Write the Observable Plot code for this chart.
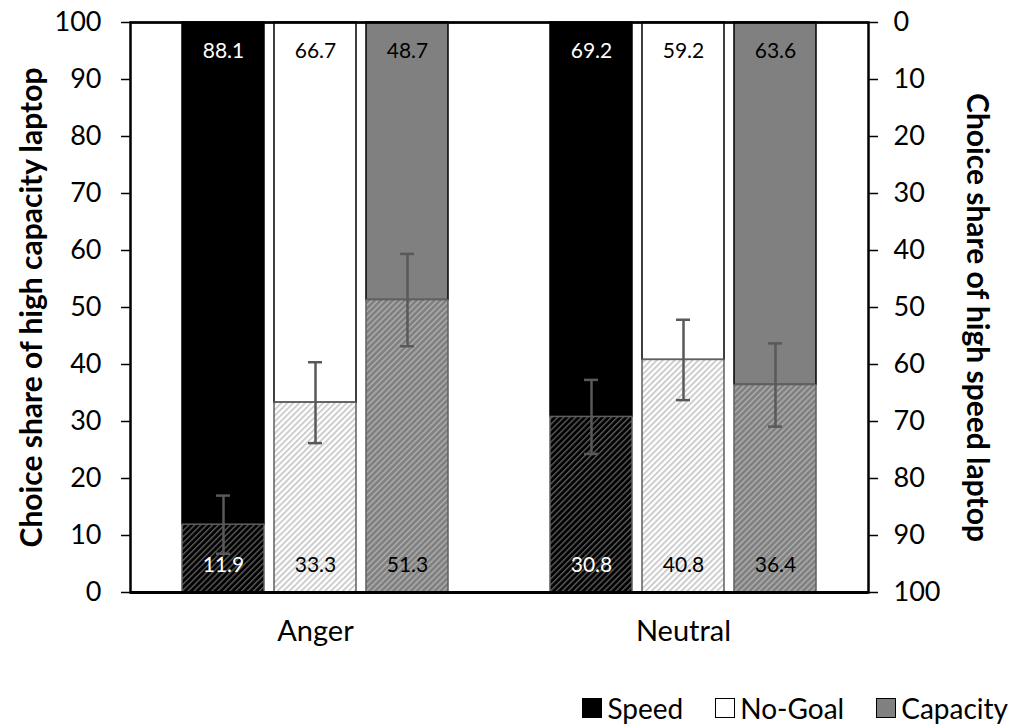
<!DOCTYPE html>
<html>
<head>
<meta charset="utf-8">
<script src="https://cdn.jsdelivr.net/npm/d3@7"></script>
<script src="https://cdn.jsdelivr.net/npm/@observablehq/plot@0.6"></script>
<style>
  body { margin: 0; background: #fff; }
  #chart { position: relative; width: 1011px; height: 726px; font-family: Lato, "Open Sans", sans-serif; overflow: hidden; }
  #chart svg { position: absolute; left: 0; top: 0; }
  .legend { position: absolute; right: 3px; top: 694px; display: flex; flex-wrap: nowrap; white-space: nowrap; align-items: center; font-size: 28px; color: #000; line-height: 1; }
  .legend .item { display: flex; align-items: center; margin-right: 32px; white-space: nowrap; }
  .legend .item:last-child { margin-right: 0; }
  .legend .sw { width: 20px; height: 20px; flex: none; box-sizing: border-box; border: 1.5px solid #000; margin-right: 5px; }
</style>
</head>
<body>
<div id="chart"></div>
<script>
// ---- data ----
const groups = ["Anger", "Neutral"];
const conditions = ["Speed", "No-Goal", "Capacity"];
// choice share of high capacity laptop (lower segment), per group x condition
const capacityShare = [11.9, 33.3, 51.3, 30.8, 40.8, 36.4];
// choice share of high speed laptop (upper segment)
const speedShare = [88.1, 66.7, 48.7, 69.2, 59.2, 63.6];
// half-length of error bars
const errorHalf = [5.1, 7.1, 8.1, 6.5, 7.05, 7.3];
const yTicks = [0, 10, 20, 30, 40, 50, 60, 70, 80, 90, 100];

const rows = [];
groups.forEach((g, gi) => conditions.forEach((c, ci) => {
  const i = gi * conditions.length + ci;
  rows.push({key: g + "|" + c, group: g, cond: c, cap: capacityShare[i], spd: speedShare[i], err: errorHalf[i]});
}));
const xDomain = [...rows.slice(0, 3).map(d => d.key), "spacer", ...rows.slice(3).map(d => d.key)];

const upperFill = {"Speed": "#000000", "No-Goal": "#ffffff", "Capacity": "#808080"};
const lowerFill = {"Speed": "url(#hSpeed)", "No-Goal": "url(#hNoGoal)", "Capacity": "url(#hCap)"};
const labelColor = {"Speed": "#ffffff", "No-Goal": "#000000", "Capacity": "#000000"};

function patterns() {
  const defs = d3.create("svg:defs");
  const specs = [
    ["hSpeed", "#000000", "#5a5a5a", 1.4],
    ["hNoGoal", "#ffffff", "#cccccc", 1.9],
    ["hCap", "#808080", "#a9a9a9", 1.6]
  ];
  for (const [id, bg, fg, w] of specs) {
    const p = defs.append("pattern").attr("id", id).attr("patternUnits", "userSpaceOnUse")
      .attr("width", 4.2).attr("height", 4.2).attr("patternTransform", "rotate(45)");
    p.append("rect").attr("width", 4.2).attr("height", 4.2).attr("fill", bg);
    p.append("rect").attr("width", w).attr("height", 4.2).attr("fill", fg);
  }
  return defs.node();
}

const plot = Plot.plot({
  width: 1011,
  height: 680,
  marginTop: 22,
  marginBottom: 88,
  marginLeft: 130,
  marginRight: 143,
  style: {fontFamily: "Lato, 'Open Sans', sans-serif", fontSize: "27px", color: "#000", background: "transparent"},
  x: {type: "band", domain: xDomain, paddingInner: 0.109, paddingOuter: 0.565, axis: null},
  y: {domain: [0, 100], axis: null},
  marks: [
    patterns,
    // upper segments (high speed share)
    Plot.rectY(rows, {x: "key", y1: "cap", y2: 100, fill: d => upperFill[d.cond], stroke: "#000", strokeWidth: 1.5}),
    // lower segments (high capacity share)
    Plot.rectY(rows, {x: "key", y1: 0, y2: "cap", fill: d => lowerFill[d.cond], stroke: "#5f5f5f", strokeWidth: 1.5}),
    // error bars
    Plot.ruleX(rows, {x: "key", y1: d => d.cap - d.err, y2: d => d.cap + d.err, stroke: "#595959", strokeWidth: 2.5}),
    Plot.tickY(rows, {x: "key", y: d => d.cap - d.err, stroke: "#595959", strokeWidth: 2.5, insetLeft: 34, insetRight: 34}),
    Plot.tickY(rows, {x: "key", y: d => d.cap + d.err, stroke: "#595959", strokeWidth: 2.5, insetLeft: 34, insetRight: 34}),
    // value labels
    Plot.text(rows, {x: "key", y: 0, text: d => d.cap.toFixed(1), fill: d => labelColor[d.cond], dy: -27, fontSize: 21}),
    Plot.text(rows, {x: "key", y: 100, text: d => d.spd.toFixed(1), fill: d => labelColor[d.cond], dy: 29, fontSize: 21}),
    // frame
    Plot.ruleY([100], {stroke: "#000", strokeWidth: 2}),
    Plot.frame({stroke: "#000", strokeWidth: 2.5, fill: "none"}),
    Plot.ruleY([0], {stroke: "#000", strokeWidth: 3}),
    // axes
    Plot.axisY(yTicks, {anchor: "left", tickSize: 9, tickPadding: 20, stroke: "#000", strokeWidth: 1.5, fontSize: 27, fill: "#000", label: null}),
    Plot.axisY(yTicks, {anchor: "right", tickSize: 9, tickPadding: 16, tickFormat: d => String(100 - d), stroke: "#000", strokeWidth: 1.5, fontSize: 27, fill: "#000", label: null}),
    Plot.axisX([xDomain[1], xDomain[5]], {anchor: "bottom", tickSize: 0, tickPadding: 28, tickFormat: d => d.split("|")[0], fontSize: 29, fill: "#000", label: null}),
    // axis titles
    Plot.text(["Choice share of high capacity laptop"], {frameAnchor: "left", dx: -98, rotate: -90, text: d => d, fontSize: 30, fontWeight: "bold", fill: "#000", textAnchor: "middle"}),
    Plot.text(["Choice share of high speed laptop"], {frameAnchor: "right", dx: 108, dy: 10, rotate: 90, text: d => d, fontSize: 30, fontWeight: "bold", fill: "#000", textAnchor: "middle"})
  ]
});

const chart = document.getElementById("chart");
chart.appendChild(plot);

const legend = document.createElement("div");
legend.className = "legend";
conditions.forEach(c => {
  const item = document.createElement("div");
  item.className = "item";
  const sw = document.createElement("span");
  sw.className = "sw";
  sw.style.background = upperFill[c];
  const t = document.createElement("span");
  t.textContent = c;
  item.appendChild(sw);
  item.appendChild(t);
  legend.appendChild(item);
});
chart.appendChild(legend);
</script>
</body>
</html>
